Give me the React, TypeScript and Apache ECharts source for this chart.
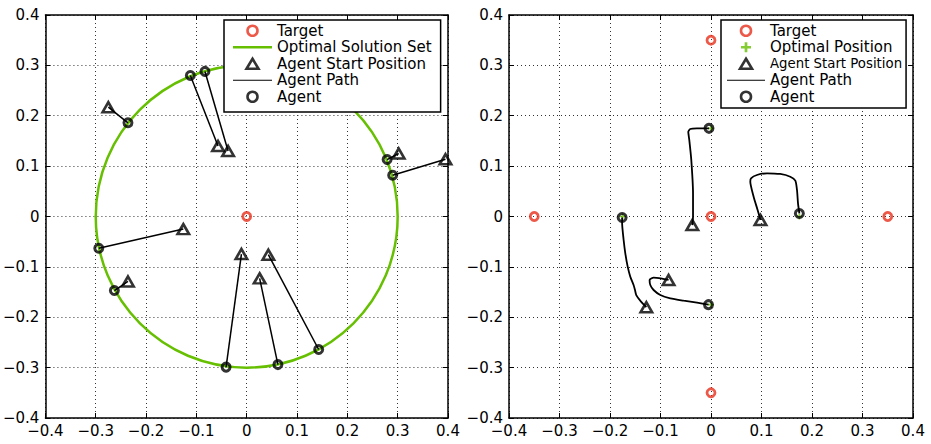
import React, { useEffect, useRef } from "react";
import * as echarts from "echarts";

// ---------- data ----------
const axisMin = -0.4;
const axisMax = 0.4;
const axisStep = 0.1;

// Left panel
const leftTargets = [[0, 0]];
const solutionCircle = [[0, 0, 0.3]]; // centre x, centre y, radius
const leftStarts = [
  [-0.057, 0.14], [-0.037, 0.13], [-0.275, 0.217], [0.302, 0.125], [0.395, 0.1135],
  [-0.126, -0.025], [-0.236, -0.129], [-0.0105, -0.0745], [0.0257, -0.1228], [0.043, -0.0758],
];
const leftAgents = [
  [-0.112, 0.28], [-0.083, 0.288], [-0.236, 0.186], [0.279, 0.113], [0.29, 0.082],
  [-0.294, -0.063], [-0.263, -0.147], [-0.041, -0.299], [0.062, -0.294], [0.143, -0.264],
];

// Right panel
const rightTargets = [[0, 0.35], [-0.35, 0], [0, 0], [0.35, 0], [0, -0.35]];
const rightOptimal = [[0, 0.175], [-0.175, 0], [0.175, 0], [0, -0.175]];
const rightStarts = [[-0.037, -0.017], [0.098, -0.007], [-0.128, -0.18], [-0.084, -0.126]];
const rightAgents = [[-0.004, 0.175], [0.175, 0.006], [-0.176, -0.002], [-0.005, -0.175]];
const rightPath1 = [
  [-0.037, -0.017], [-0.0356, 0.0], [-0.0356, 0.046], [-0.039, 0.112], [-0.043, 0.152],
  [-0.045, 0.168], [-0.041, 0.1737], [-0.028, 0.175], [-0.004, 0.175],
];
const rightPath2 = [
  [0.098, -0.007], [0.0923, 0.0129], [0.0844, 0.0393], [0.0778, 0.0691], [0.0792, 0.0758],
  [0.091, 0.0824], [0.111, 0.0858], [0.137, 0.0844], [0.157, 0.079], [0.167, 0.0711],
  [0.1703, 0.0526], [0.1723, 0.0262], [0.175, 0.006],
];
const rightPath3 = [
  [-0.128, -0.18], [-0.1386, -0.169], [-0.148, -0.156], [-0.1505, -0.146], [-0.1533, -0.136],
  [-0.1598, -0.1195], [-0.165, -0.0996], [-0.1697, -0.073], [-0.173, -0.0467], [-0.176, -0.0135],
  [-0.176, -0.002],
];
const rightPath4 = [
  [-0.084, -0.126], [-0.097, -0.1235], [-0.1137, -0.1215], [-0.1216, -0.126], [-0.1202, -0.136],
  [-0.1137, -0.1459], [-0.1004, -0.1558], [-0.0806, -0.1624], [-0.0542, -0.1671], [-0.0277, -0.1711],
  [-0.005, -0.175],
];
const rightPaths = [rightPath1, rightPath2, rightPath3, rightPath4];

const leftLegendNames = ["Target", "Optimal Solution Set", "Agent Start Position", "Agent Path", "Agent"];
const rightLegendNames = ["Target", "Optimal Position", "Agent Start Position", "Agent Path", "Agent"];

// ---------- styles ----------
const FONT = "DejaVu Sans";
const GREEN = "#66bf00";
const RED = "#e8301c";
const PLUS = "path://M2.2,0H3.8V2.2H6V3.8H3.8V6H2.2V3.8H0V2.2H2.2Z";
const ICON_TRI = "path://M6,0L12,10H0Z";
const ICON_GREEN_LINE = "path://M0,0H40V2.6H0Z";
const ICON_PATH_LINE = "path://M0,0H40V1.1H0Z";

const fmt = (v: number) =>
  Math.abs(v) < 1e-9 ? "0" : (v < 0 ? "\u2212" : "") + Math.abs(v).toFixed(1);

function makeX(gridIndex: number, main: boolean) {
  return {
    type: "value",
    gridIndex,
    min: axisMin,
    max: axisMax,
    interval: axisStep,
    position: main ? "bottom" : "top",
    axisLine: { show: true, onZero: false, lineStyle: { color: "#000", width: 1.5 } },
    axisTick: { show: true, inside: true, length: 5, lineStyle: { color: "#000", width: 1 } },
    axisLabel: main
      ? { show: true, formatter: fmt, color: "#000", fontSize: 15, fontFamily: FONT, margin: 7, lineHeight: 12 }
      : { show: false },
    splitLine: main
      ? { show: true, lineStyle: { color: "#333", type: [1, 3], width: 1 } }
      : { show: false },
  };
}
function makeY(gridIndex: number, main: boolean) {
  return {
    type: "value",
    gridIndex,
    min: axisMin,
    max: axisMax,
    interval: axisStep,
    position: main ? "left" : "right",
    axisLine: { show: true, onZero: false, lineStyle: { color: "#000", width: 1.5 } },
    axisTick: { show: true, inside: true, length: 5, lineStyle: { color: "#000", width: 1 } },
    axisLabel: main
      ? { show: true, formatter: fmt, color: "#000", fontSize: 15, fontFamily: FONT, margin: 6, lineHeight: 12 }
      : { show: false },
    splitLine: main
      ? { show: true, lineStyle: { color: "#333", type: [1, 3], width: 1 } }
      : { show: false },
  };
}

const targetStyle = { color: "rgba(255,255,255,0)", borderColor: RED, borderWidth: 2.8 };
const agentStyle = { color: "rgba(255,255,255,0)", borderColor: "#000", borderWidth: 3 };
const startStyle = { color: "rgba(255,255,255,0)", borderColor: "#000", borderWidth: 2.6 };

function panelSeries(axis: number) {
  return { xAxisIndex: axis, yAxisIndex: axis };
}

function legendItem(n: string, rightPanel: boolean) {
  if (n === "Optimal Solution Set") return { name: n, icon: ICON_GREEN_LINE };
  if (n === "Agent Path") return { name: n, icon: ICON_PATH_LINE };
  if (n === "Agent Start Position")
    return rightPanel
      ? { name: n, icon: ICON_TRI, textStyle: { fontSize: 13.3 } }
      : { name: n, icon: ICON_TRI };
  return { name: n };
}

export default function App() {
  const ref = useRef<HTMLDivElement>(null);
  useEffect(() => {
    if (!ref.current) return;
    const chart = echarts.init(ref.current, null, { renderer: "svg" });

    const series: any[] = [];
    // ---- left panel (axes 0) ----
    series.push({
      type: "custom",
      name: "Optimal Solution Set",
      ...panelSeries(0),
      data: solutionCircle,
      encode: { x: 0, y: 1 },
      itemStyle: { color: GREEN },
      renderItem: (params: any, api: any) => {
        const c = api.coord([api.value(0), api.value(1)]);
        const s = api.size([api.value(2), api.value(2)]);
        return {
          type: "ellipse",
          shape: { cx: c[0], cy: c[1], rx: s[0], ry: s[1] },
          style: { fill: "none", stroke: GREEN, lineWidth: 2.5 },
        };
      },
    });
    leftStarts.forEach((s, i) => {
      series.push({
        type: "line",
        name: "Agent Path",
        ...panelSeries(0),
        data: [s, leftAgents[i]],
        symbol: "none",
        showSymbol: false,
        lineStyle: { color: "#000", width: 1.5 },
        itemStyle: { color: "#000" },
      });
    });
    series.push({
      type: "scatter", name: "Agent Start Position", ...panelSeries(0), data: leftStarts,
      symbol: "triangle", symbolSize: [11.5, 10], itemStyle: startStyle, clip: false,
    });
    series.push({
      type: "scatter", name: "Target", ...panelSeries(0), data: leftTargets,
      symbol: "circle", symbolSize: 8, itemStyle: targetStyle, clip: false,
    });
    series.push({
      type: "scatter", name: "Agent", ...panelSeries(0), data: leftAgents,
      symbol: "circle", symbolSize: 8, itemStyle: agentStyle, clip: false,
    });

    // ---- right panel (axes 2) ----
    rightPaths.forEach((p) => {
      series.push({
        type: "line",
        name: "Agent Path",
        ...panelSeries(2),
        data: p,
        symbol: "none",
        showSymbol: false,
        smooth: 0.2,
        lineStyle: { color: "#000", width: 1.8 },
        itemStyle: { color: "#000" },
      });
    });
    series.push({
      type: "scatter", name: "Agent Start Position", ...panelSeries(2), data: rightStarts,
      symbol: "triangle", symbolSize: [11.5, 10], itemStyle: startStyle, clip: false,
    });
    series.push({
      type: "scatter", name: "Target", ...panelSeries(2), data: rightTargets,
      symbol: "circle", symbolSize: 8, itemStyle: targetStyle, clip: false,
    });
    series.push({
      type: "scatter", name: "Optimal Position", ...panelSeries(2), data: rightOptimal,
      symbol: PLUS, symbolSize: 6, itemStyle: { color: GREEN }, clip: false,
    });
    series.push({
      type: "scatter", name: "Agent", ...panelSeries(2), data: rightAgents,
      symbol: "circle", symbolSize: 8, itemStyle: agentStyle, clip: false,
    });

    const legendBase = {
      orient: "vertical",
      itemWidth: 39,
      itemHeight: 10,
      itemGap: 0,
      borderColor: "#000",
      borderWidth: 1.5,
      borderRadius: 0,
      backgroundColor: "#fff",
      selectedMode: false,
      itemStyle: { borderWidth: 2.6 },
      textStyle: { fontFamily: FONT, fontSize: 15, color: "#000", lineHeight: 16.5 },
    };

    chart.setOption({
      animation: false,
      backgroundColor: "#fff",
      textStyle: { fontFamily: FONT },
      grid: [
        { left: 44, top: 15, width: 404, height: 403, containLabel: false },
        { left: 509, top: 15, width: 404, height: 403, containLabel: false },
      ],
      xAxis: [makeX(0, true), makeX(0, false), makeX(1, true), makeX(1, false)],
      yAxis: [makeY(0, true), makeY(0, false), makeY(1, true), makeY(1, false)],
      legend: [
        {
          ...legendBase,
          left: 224,
          top: 20,
          padding: [2.5, 9, 7, 9],
          data: leftLegendNames.map((n) => legendItem(n, false)),
        },
        {
          ...legendBase,
          left: 721,
          top: 20,
          itemWidth: 38,
          padding: [2.5, 4, 3, 6],
          data: rightLegendNames.map((n) => legendItem(n, true)),
        },
      ],
      series,
    });
    return () => chart.dispose();
  }, []);
  return (
    <div
      ref={ref}
      style={{ position: "fixed", left: 0, top: 0, width: 931, height: 444, background: "#fff" }}
    />
  );
}
